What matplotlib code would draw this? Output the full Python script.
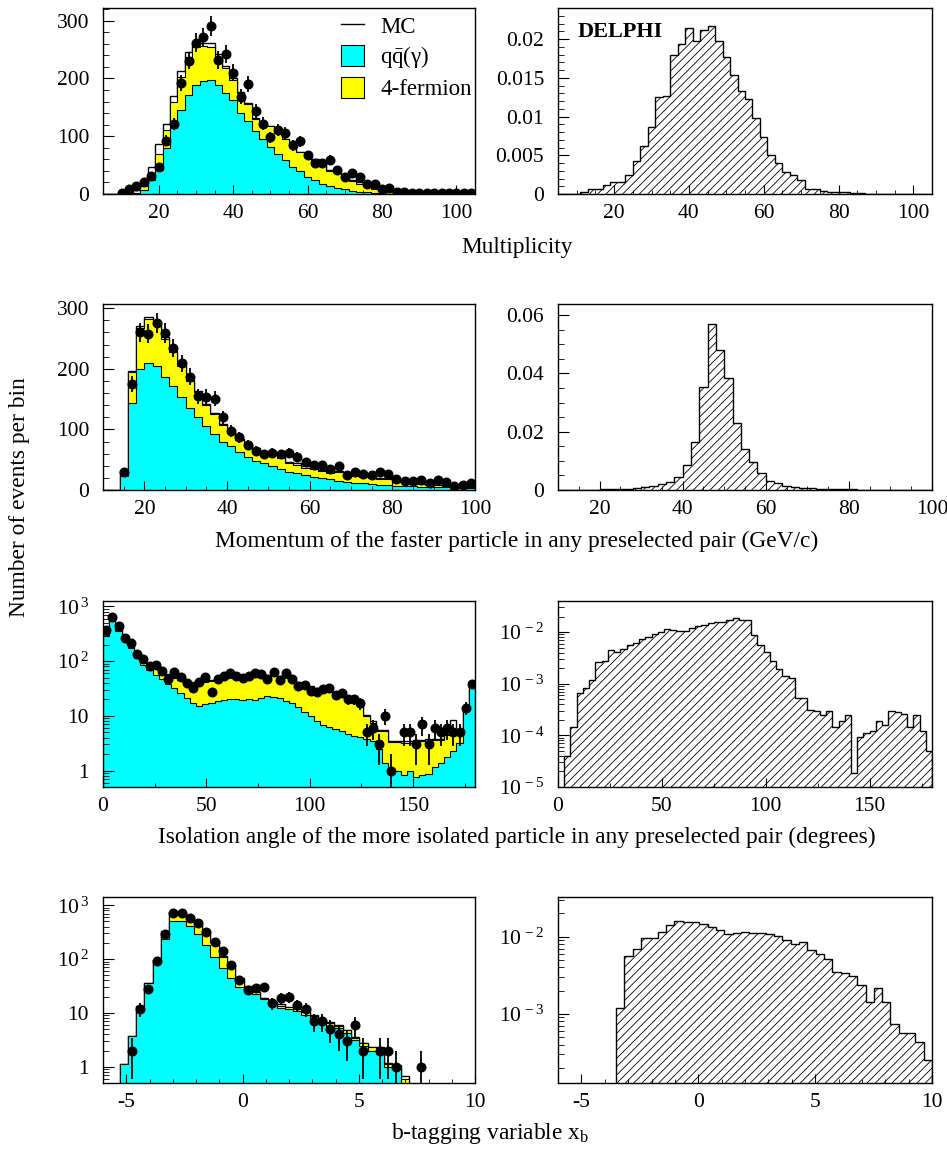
import numpy as np
import matplotlib
matplotlib.use('Agg')
import matplotlib.pyplot as plt
from matplotlib.ticker import MultipleLocator, LogLocator, FuncFormatter, NullFormatter
from matplotlib.patches import Patch
from matplotlib.lines import Line2D

plt.rcParams['font.family'] = ['Liberation Serif', 'DejaVu Serif']
plt.rcParams['mathtext.fontset'] = 'custom'
plt.rcParams['mathtext.rm'] = 'Liberation Serif'
plt.rcParams['mathtext.it'] = 'Liberation Serif:italic'
plt.rcParams['axes.unicode_minus'] = False
plt.rcParams['hatch.linewidth'] = 0.6

CYAN = '#00ffff'
YELLOW = '#ffff00'

# ---- binning
edges_mult = np.arange(5, 107, 2)       # 50 bins
edges_mom = np.arange(10, 102, 2)       # 45 bins
edges_iso = np.arange(0, 183, 3)        # 60 bins
edges_xb = np.linspace(-6, 10, 46)      # 45 bins

# ---- multiplicity
mult_data = [0, 0, 2, 9, 14, 20, 32, 47, 92, 121, 192, 231, 262, 271, 291, 232, 242, 210, 168, 191,
             143, 122, 98, 111, 105, 84, 91, 67, 53, 53, 59, 42, 30, 36, 30, 17, 17, 8, 10, 3,
             3, 2, 1, 1, 2, 1, 1, 1, 1, 2]
mult_mc = [0, 0, 0.5, 1, 7, 16, 46, 87, 122, 170, 213, 245, 262, 262, 262, 243, 222, 200, 177, 157,
           131, 119, 118, 108, 96, 82, 73, 67, 60, 54, 42, 39, 31, 24, 20, 14, 10, 7, 4, 2,
           1.5, 1.2, 1, 0.8, 0.7, 0.6, 0.5, 0.5, 0.4, 0.4]
mult_qq = [0, 0, 0, 0, 1, 7, 24, 42, 79, 114, 146, 172, 189, 196, 197, 189, 175, 163, 140, 126,
           109, 96, 82, 69, 58, 47, 39, 30, 24, 18, 14, 10, 8, 6, 4, 3, 2, 1, 0.5, 0.3,
           0.2, 0.2, 0.2, 0.1, 0.1, 0.1, 0.1, 0.1, 0.1, 0.1]
mult_4f = [0, 0, 0, 0, 1, 6, 9, 27, 32, 46, 57, 66, 66, 60, 58, 49, 43, 34, 35, 30,
           21, 22, 35, 37, 37, 34, 33, 36, 35, 35, 26, 27, 22, 17, 14, 10, 7, 5, 2.5, 1.5,
           1, 0.8, 0.6, 0.5, 0.4, 0.3, 0.3, 0.3, 0.2, 0.2]
mult_sig = [0, 0, 0, 0.0002, 0.0006, 0.0007, 0.0011, 0.0015, 0.0015, 0.0024, 0.0043, 0.0062, 0.0087,
            0.0125, 0.0126, 0.018, 0.0194, 0.0214, 0.0197, 0.0212, 0.0217, 0.0198, 0.0177, 0.0154,
            0.0133, 0.0122, 0.0098, 0.0073, 0.005, 0.004, 0.0028, 0.0025, 0.0018, 0.0007, 0.0006,
            0.0004, 0.0003, 0.0003, 0.0002, 0.0001, 0.0001, 0.00005, 0.00005, 0.00003, 0.00003,
            0, 0, 0, 0, 0]

# ---- momentum of faster particle
mom_data = [0, 0, 29, 175, 260, 258, 275, 259, 234, 209, 187, 155, 154, 151, 120, 98, 87, 74, 64, 59,
            61, 59, 61, 55, 46, 42, 41, 34, 40, 24, 29, 26, 25, 30, 26, 18, 15, 15, 16, 12,
            16, 13, 7, 8, 11]
mom_mc = [0, 0, 33, 197, 270, 285, 275, 252, 230, 206, 182, 164, 142, 127, 109, 96, 85, 74, 69, 63,
          61, 55, 47, 44, 39, 36, 33, 30, 32, 28, 25, 23, 22, 19, 19, 14, 12, 10, 10, 8,
          8, 7, 6, 6, 5]
mom_qq = [0, 0, 23, 144, 199, 210, 204, 187, 171, 154, 135, 120, 105, 92, 80, 72, 62, 55, 48, 44,
          39, 34, 30, 28, 25, 22, 19, 18, 15, 13, 12, 11, 10, 9, 8, 7, 6.6, 6, 5.5, 5,
          5, 4.5, 4.5, 4, 4]
mom_4f = [0, 0, 8, 50, 68, 72, 68, 62, 56, 50, 45, 42, 35, 33, 27, 22, 21, 17, 19, 17,
          20, 19, 15, 14, 12, 12, 12, 10, 15, 13, 11, 10, 10, 8.5, 9.5, 6, 4.5, 3.5, 4, 2.5,
          2.5, 2, 1.2, 1.5, 0.8]
mom_sig = [0, 0, 0, 0.0001, 0.0001, 0.0002, 0.0002, 0.0003, 0.0004, 0.0006, 0.0009, 0.0014, 0.0021,
           0.0029, 0.0046, 0.0086, 0.0166, 0.0354, 0.0571, 0.048, 0.0383, 0.0231, 0.0139, 0.0097,
           0.0057, 0.0031, 0.0023, 0.0015, 0.0011, 0.0008, 0.0006, 0.0004, 0.0003, 0.0003, 0.0002,
           0.0002, 0.0001, 0.0001, 0.0001, 0.0001, 0.0001, 0.0001, 0.00005, 0, 0]

# ---- isolation angle
iso_data = [374, 638, 449, 263, 213, 136, 110, 82, 84, 67, 48, 64, 51, 40, 33, 41, 51, 27, 48, 53,
            60, 54, 49, 54, 60, 58, 48, 63, 45, 62, 47, 35, 36, 29, 27, 31, 32, 24, 26, 20,
            20, 17, 5, 6, 3, 10, 1, 0, 5, 5, 3, 7, 3, 6, 5, 6, 5, 5, 14, 39]
iso_mc = [330, 620, 430, 245, 190, 130, 105, 92, 90, 71, 59, 52, 47, 42, 42, 42, 44, 45, 47, 50,
          52, 52, 51, 52, 54, 55, 56, 55, 54, 51, 47, 42, 40, 35, 32, 30, 28, 26, 24, 20,
          18, 16, 10.5, 7.9, 5.5, 5.5, 3.4, 3.4, 3.4, 3.4, 3.6, 3.6, 3.7, 3.8, 3.8, 4.6, 8.5, 5.5, 14, 42]
iso_qq = [290, 555, 349, 229, 173, 113, 86, 69, 56, 47, 38, 32, 26, 21, 17, 15, 16.5, 17.5, 19, 19.5,
          20, 20, 19.5, 20, 19.5, 21, 23.5, 22, 21, 19, 17, 14.7, 12, 9.8, 7.9, 6.8, 6.3, 5.7, 5.2, 4.7,
          4.3, 4.1, 3.7, 3.5, 2.5, 1.4, 1.03, 1.0, 0.82, 1.0, 0.75, 0.82, 0.85, 1.18, 1.4, 1.8, 2.3, 3.2, 13, 40]
iso_4f = [20, 40, 30, 10, 10, 12, 14, 19, 30, 21, 18, 18, 19, 19, 23, 25, 25.5, 25.5, 26, 28.5,
          30, 30, 29.5, 30, 32.5, 32, 30.5, 31, 31, 30, 28, 25.3, 26, 23.2, 22.1, 21.2, 20.7, 19.3, 17.8, 14.3,
          12.7, 10.9, 6.3, 4.0, 2.7, 3.8, 2.3, 2.3, 2.4, 2.2, 2.45, 2.6, 2.65, 2.4, 2.2, 2.6, 2.7, 2.0, 0.5, 1]
iso_sig = [0, 3.9e-5, 1.43e-4, 6.6e-4, 8.3e-4, 1.2e-3, 2.6e-3, 2.8e-3, 4.5e-3, 4.1e-3,
           4.8e-3, 5.5e-3, 6.1e-3, 7.4e-3, 7.9e-3, 9.1e-3, 1.0e-2, 1.14e-2, 1.08e-2, 1.06e-2,
           1.03e-2, 1.2e-2, 1.33e-2, 1.38e-2, 1.49e-2, 1.56e-2, 1.6e-2, 1.68e-2, 1.87e-2, 1.75e-2,
           1.68e-2, 8.6e-3, 5.7e-3, 4.1e-3, 2.7e-3, 1.95e-3, 1.4e-3, 1.29e-3, 5.3e-4, 5.3e-4,
           3.1e-4, 2.9e-4, 2.45e-4, 3.0e-4, 1.43e-4, 1.86e-4, 2.45e-4, 1.86e-5, 9.1e-5, 1.1e-4,
           1.2e-4, 1.9e-4, 1.6e-4, 3.0e-4, 2.8e-4, 2.6e-4, 1.45e-4, 2.5e-4, 1.24e-4, 5e-5]

# ---- b-tagging variable
xb_data = [0, 0, 0, 2, 12, 28, 94, 293, 720, 708, 582, 470, 315, 206, 144, 77, 40, 27, 29, 30,
           15, 19, 20, 14, 12, 7, 7, 5, 4, 3, 6, 2, 0, 2, 2, 1, 0, 0, 1, 0,
           0, 0, 0, 0, 0]
xb_mc = [0, 0, 1.14, 3.8, 13.7, 36, 98, 330, 742, 742, 625, 470, 307, 215, 116, 79, 45, 31.5, 24.4, 19,
         15.8, 14.4, 13, 11.9, 10.8, 9.1, 7.5, 6.8, 5.9, 4.9, 3.5, 2.8, 2.3, 2.3, 1.2, 1.1, 0.67, 0, 0, 0,
         0, 0, 0, 0, 0]
xb_qq = [0, 0, 1.14, 3.8, 13.7, 36, 98, 231, 505, 505, 408, 286, 186, 110, 67, 45, 30.6, 26, 22, 18,
         15, 12.5, 11.6, 10.8, 9.3, 7.9, 6.4, 5.8, 5.2, 4.3, 3.1, 2.4, 2.0, 1.7, 1.0, 0.9, 0.3, 0, 0, 0,
         0, 0, 0, 0, 0]
xb_4f = [0, 0, 0, 0, 0, 0, 0, 69, 175, 175, 172, 154, 104, 95, 43, 30, 12, 4, 2.5, 1,
         1, 1.2, 1.2, 1, 1.2, 1, 0.9, 0.8, 0.6, 0.5, 0.3, 0.4, 0.3, 0.5, 0.15, 0.15, 0.3, 0, 0, 0,
         0, 0, 0, 0, 0]
xb_sig = [0, 0, 0, 0, 0, 0, 0, 1.18e-3, 5.6e-3, 6.9e-3, 9.5e-3, 9.5e-3, 1.16e-2, 1.41e-2, 1.61e-2,
          1.52e-2, 1.52e-2, 1.46e-2, 1.32e-2, 1.22e-2, 1.08e-2, 1.10e-2, 1.14e-2, 1.10e-2, 1.10e-2,
          1.07e-2, 1.02e-2, 9.1e-3, 8.0e-3, 8.6e-3, 6.6e-3, 5.97e-3, 5.1e-3, 3.5e-3, 3.36e-3,
          3.1e-3, 2.37e-3, 1.40e-3, 2.15e-3, 1.44e-3, 7.4e-4, 5.7e-4, 5.7e-4, 4.3e-4, 2.5e-4]

W, H = 947, 1151
fig = plt.figure(figsize=(W / 100, H / 100), dpi=100)


def px_axes(left, top, right, bottom):
    return fig.add_axes([left / W, 1 - bottom / H, (right - left) / W, (bottom - top) / H])


def style(ax, xmaj, xmin, ymaj=None, ymin=None, log=False):
    ax.tick_params(which='both', direction='in', top=False, right=False, labelsize=15.5)
    ax.tick_params(axis='y', which='major', length=8, pad=10)
    ax.tick_params(axis='y', which='minor', length=4)
    ax.tick_params(axis='x', which='major', length=6.5, pad=7)
    ax.tick_params(axis='x', which='minor', length=3.2)
    ax.xaxis.set_major_locator(MultipleLocator(xmaj))
    ax.xaxis.set_minor_locator(MultipleLocator(xmin))
    ax.xaxis.set_major_formatter(FuncFormatter(lambda v, p: '%g' % v))
    if log:
        ax.set_yscale('log')
        ax.yaxis.set_major_locator(LogLocator(base=10, numticks=20))
        ax.yaxis.set_minor_locator(LogLocator(base=10, subs=np.arange(2, 10), numticks=20))
        ax.yaxis.set_minor_formatter(NullFormatter())
    else:
        ax.yaxis.set_major_locator(MultipleLocator(ymaj))
        ax.yaxis.set_minor_locator(MultipleLocator(ymin))
        ax.yaxis.set_major_formatter(FuncFormatter(lambda v, p: '%g' % round(v, 6)))
    for s in ax.spines.values():
        s.set_linewidth(1.0)


def left_log_fmt(v, p):
    e = int(round(np.log10(v)))
    if e == 0:
        return '1'
    if e == 1:
        return '10'
    return r'$\mathregular{10^{\,%d}}$' % e


def right_log_fmt(v, p):
    e = int(round(np.log10(v)))
    return r'$\mathregular{10^{\,%d}}$' % e


def draw_stack(ax, edges, mc, qq, ff, data, log=False):
    mc, qq, ff, data = map(np.asarray, (mc, qq, ff, data))
    base = 1e-3 if log else 0
    top = qq + ff
    if log:
        mc, top, qqv = np.clip(mc, base, None), np.clip(top, base, None), np.clip(qq, base, None)
    else:
        qqv = qq
    ax.stairs(mc, edges, baseline=base, fill=True, facecolor='white', edgecolor='black', lw=1.0)
    ax.stairs(top, edges, baseline=base, fill=True, facecolor=YELLOW, edgecolor='black', lw=0.8)
    ax.stairs(qqv, edges, baseline=base, fill=True, facecolor=CYAN, edgecolor='black', lw=0.8)
    centers = 0.5 * (edges[:-1] + edges[1:])
    m = data > 0
    err = np.sqrt(data[m])
    lo = np.minimum(err, data[m] * 0.999) if log else err
    ax.errorbar(centers[m], data[m], yerr=[lo, err], fmt='o', color='black', ms=6.2,
                elinewidth=1.3, capsize=0, zorder=5)


def draw_hatch(ax, edges, vals, log=False):
    vals = np.asarray(vals, dtype=float)
    base = 1e-9 if log else 0
    if log:
        vals = np.where(vals > 0, vals, base)
    ax.stairs(vals, edges, baseline=base, fill=True, facecolor='white', edgecolor='black',
              hatch='////', lw=1.0)


rows = [(8, 194), (304, 490), (601, 787), (897, 1083)]
LX = (103, 475)
RX = (558, 932)

# row 1: multiplicity
ax = px_axes(LX[0], rows[0][0], LX[1], rows[0][1])
draw_stack(ax, edges_mult, mult_mc, mult_qq, mult_4f, mult_data)
ax.set_xlim(5, 105)
ax.set_ylim(0, 322)
style(ax, 20, 5, 100, 20)
handles = [Line2D([], [], color='black', lw=1),
           Patch(facecolor=CYAN, edgecolor='black', lw=0.8),
           Patch(facecolor=YELLOW, edgecolor='black', lw=0.8)]
labels = ['MC', r'$\mathregular{q\bar{q}(\gamma)}$', '4-fermion']
ax.legend(handles, labels, loc='upper left', bbox_to_anchor=(0.64, 0.965), frameon=False,
          fontsize=16.5, handlelength=1.0, handleheight=1.0, labelspacing=0.3,
          handletextpad=0.7, borderpad=0, borderaxespad=0)

ax = px_axes(RX[0], rows[0][0], RX[1], rows[0][1])
draw_hatch(ax, edges_mult, mult_sig)
ax.set_xlim(5, 105)
ax.set_ylim(0, 0.024)
style(ax, 20, 5, 0.005, 0.001)
ax.text(0.053, 0.87, 'DELPHI', transform=ax.transAxes, fontsize=16, fontweight='bold',
        va='center', ha='left')

# row 2: momentum
ax = px_axes(LX[0], rows[1][0], LX[1], rows[1][1])
draw_stack(ax, edges_mom, mom_mc, mom_qq, mom_4f, mom_data)
ax.set_xlim(10, 100)
ax.set_ylim(0, 307)
style(ax, 20, 5, 100, 20)

ax = px_axes(RX[0], rows[1][0], RX[1], rows[1][1])
draw_hatch(ax, edges_mom, mom_sig)
ax.set_xlim(10, 100)
ax.set_ylim(0, 0.0638)
style(ax, 20, 5, 0.02, 0.005)

# row 3: isolation angle
ax = px_axes(LX[0], rows[2][0], LX[1], rows[2][1])
draw_stack(ax, edges_iso, iso_mc, iso_qq, iso_4f, iso_data, log=True)
style(ax, 50, 25, log=True)
ax.set_xlim(0, 180)
ax.set_ylim(0.5, 1260)
ax.yaxis.set_major_formatter(FuncFormatter(left_log_fmt))

ax = px_axes(RX[0], rows[2][0], RX[1], rows[2][1])
draw_hatch(ax, edges_iso, iso_sig, log=True)
style(ax, 50, 25, log=True)
ax.set_xlim(0, 180)
ax.set_ylim(1e-5, 0.04)
ax.yaxis.set_major_formatter(FuncFormatter(right_log_fmt))

# row 4: b-tagging
ax = px_axes(LX[0], rows[3][0], LX[1], rows[3][1])
draw_stack(ax, edges_xb, xb_mc, xb_qq, xb_4f, xb_data, log=True)
style(ax, 5, 1, log=True)
ax.set_xlim(-6, 10)
ax.set_ylim(0.5, 1420)
ax.yaxis.set_major_formatter(FuncFormatter(left_log_fmt))

ax = px_axes(RX[0], rows[3][0], RX[1], rows[3][1])
draw_hatch(ax, edges_xb, xb_sig, log=True)
style(ax, 5, 1, log=True)
ax.set_xlim(-6, 10)
ax.set_ylim(1.27e-4, 0.0325)
ax.yaxis.set_major_formatter(FuncFormatter(right_log_fmt))

# axis titles
fs = 16.8
fig.text(517 / W, 1 - 248 / H, 'Multiplicity', ha='center', va='center', fontsize=fs)
fig.text(517 / W, 1 - 541 / H, 'Momentum of the faster particle in any preselected pair (GeV/c)',
         ha='center', va='center', fontsize=fs)
fig.text(517 / W, 1 - 837 / H,
         'Isolation angle of the more isolated particle in any preselected pair (degrees)',
         ha='center', va='center', fontsize=fs)
fig.text(490 / W, 1 - 1133 / H, r'b-tagging variable x$_{\mathregular{b}}$',
         ha='center', va='center', fontsize=fs)
fig.text(20 / W, 1 - 497 / H, 'Number of events per bin', rotation=90,
         ha='center', va='center', fontsize=fs)

fig.savefig('out.png', dpi=100)
